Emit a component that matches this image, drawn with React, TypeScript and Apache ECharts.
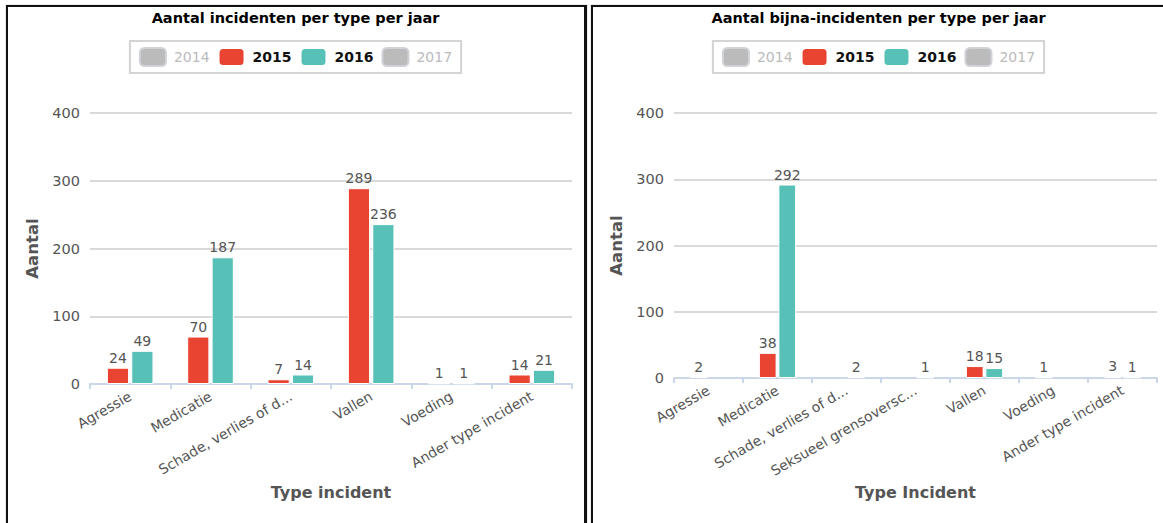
import React, { useEffect, useRef } from "react";
import * as echarts from "echarts";

const years = ["2014", "2015", "2016", "2017"];
const yearColors = ["#bbbbbb", "#e94432", "#57c1b7", "#bbbbbb"];

const incCategories = ["Agressie", "Medicatie", "Schade, verlies of diefstal", "Vallen", "Voeding", "Ander type incident"];
const inc2014: (number | null)[] = [];
const inc2015: (number | null)[] = [24, 70, 7, 289, 1, 14];
const inc2016: (number | null)[] = [49, 187, 14, 236, 1, 21];
const inc2017: (number | null)[] = [];

const nearCategories = ["Agressie", "Medicatie", "Schade, verlies of diefstal", "Seksueel grensoverschrijdend gedrag", "Vallen", "Voeding", "Ander type incident"];
const near2014: (number | null)[] = [];
const near2015: (number | null)[] = [2, 38, null, null, 18, 1, 3];
const near2016: (number | null)[] = [null, 292, 2, 1, 15, null, 1];
const near2017: (number | null)[] = [];

const yTicks = [0, 100, 200, 300, 400];

const FONT = "DejaVu Sans";

function buildOption(cfg: {
  title: string;
  categories: string[];
  data: (number | null)[][];
  xName: string;
  grid: any;
  yNameGap: number;
  xNameGap: number;
  catGap: string;
}) {
  return {
    animation: false,
    textStyle: { fontFamily: FONT },
    title: {
      text: cfg.title,
      left: "center",
      top: 3,
      padding: 0,
      textStyle: { fontFamily: FONT, fontSize: 14.5, fontWeight: "bold", color: "#000" },
    },
    legend: {
      top: 34,
      left: "center",
      borderColor: "#d4d4d4",
      borderWidth: 2,
      padding: [6, 9],
      itemGap: 8,
      itemWidth: 26,
      itemHeight: 18,
      inactiveColor: "#bbbbbb",
      selected: { "2014": false, "2015": true, "2016": true, "2017": false },
      data: years.map((y, i) => ({
        name: y,
        textStyle:
          i === 0 || i === 3
            ? { fontWeight: "normal", fontSize: 14, fontFamily: FONT, padding: [0, 0, 0, 3] }
            : { fontWeight: "bold", fontSize: 14, color: "#111", fontFamily: FONT, padding: [0, 0, 0, 3] },
      })),
    },
    grid: cfg.grid,
    xAxis: {
      type: "category",
      data: cfg.categories,
      name: cfg.xName,
      nameLocation: "middle",
      nameGap: cfg.xNameGap,
      nameTextStyle: { fontFamily: FONT, fontSize: 16, fontWeight: "bold", color: "#555" },
      axisLine: { lineStyle: { color: "#c9d7e8", width: 2 } },
      axisTick: { show: true, length: 5, lineStyle: { color: "#c9d7e8", width: 2 } },
      axisLabel: {
        rotate: 30,
        color: "#555",
        fontSize: 14,
        margin: 11,
        interval: 0,
        fontFamily: FONT,
        formatter: (v: string) => (v.length > 20 ? v.slice(0, 20) + "..." : v),
      },
    },
    yAxis: {
      type: "value",
      min: yTicks[0],
      max: yTicks[yTicks.length - 1],
      interval: yTicks[1] - yTicks[0],
      name: "Aantal",
      nameLocation: "middle",
      nameGap: cfg.yNameGap,
      nameRotate: 90,
      nameTextStyle: { fontFamily: FONT, fontSize: 16.5, fontWeight: "bold", color: "#555" },
      axisLine: { show: false },
      axisTick: { show: false },
      axisLabel: { color: "#555", fontSize: 14.5, margin: 10, fontFamily: FONT },
      splitLine: { lineStyle: { color: "#cccccc", width: 1.5 } },
    },
    series: years.map((y, i) => ({
      name: y,
      type: "bar",
      data: cfg.data[i],
      barGap: "10%",
      barCategoryGap: cfg.catGap,
      itemStyle: { color: yearColors[i], borderColor: "#fff", borderWidth: 1 },
      label: {
        show: true,
        position: "top",
        distance: 3,
        color: "#555",
        fontSize: 14,
        fontFamily: FONT,
      },
    })),
  };
}

function Chart({ option, style }: { option: any; style: React.CSSProperties }) {
  const ref = useRef<HTMLDivElement>(null);
  useEffect(() => {
    if (!ref.current) return;
    const chart = echarts.init(ref.current, undefined, { renderer: "svg" });
    chart.setOption(option);
    return () => chart.dispose();
  }, [option]);
  return <div ref={ref} style={{ position: "absolute", ...style }} />;
}

const leftOption = buildOption({
  title: "Aantal incidenten per type per jaar",
  categories: incCategories,
  data: [inc2014, inc2015, inc2016, inc2017],
  xName: "Type incident",
  grid: { left: 82, right: 11, top: 106, bottom: 139 },
  yNameGap: 45,
  xNameGap: 100,
  catGap: "42%",
});

const rightOption = buildOption({
  title: "Aantal bijna-incidenten per type per jaar",
  categories: nearCategories,
  data: [near2014, near2015, near2016, near2017],
  xName: "Type Incident",
  grid: { left: 80, right: 6, top: 106, bottom: 145 },
  yNameGap: 48,
  xNameGap: 106,
  catGap: "46%",
});

export default function App() {
  return (
    <div
      style={{
        position: "fixed",
        left: 0,
        top: 0,
        width: 1163,
        height: 523,
        overflow: "hidden",
        background: "#fff",
      }}
    >
      <div
        style={{
          position: "absolute",
          left: 6,
          top: 5,
          width: 576,
          height: 560,
          borderLeft: "2px solid #111",
          borderTop: "2px solid #111",
          borderRight: "3px solid #111",
          boxShadow: "0 0 1px #888",
        }}
      />
      <div
        style={{
          position: "absolute",
          left: 591,
          top: 5,
          width: 600,
          height: 560,
          borderLeft: "2px solid #111",
          borderTop: "2px solid #111",
          boxShadow: "0 0 1px #888",
        }}
      />
      <Chart option={leftOption} style={{ left: 8, top: 7, width: 575, height: 516 }} />
      <Chart option={rightOption} style={{ left: 594, top: 7, width: 569, height: 516 }} />
    </div>
  );
}
